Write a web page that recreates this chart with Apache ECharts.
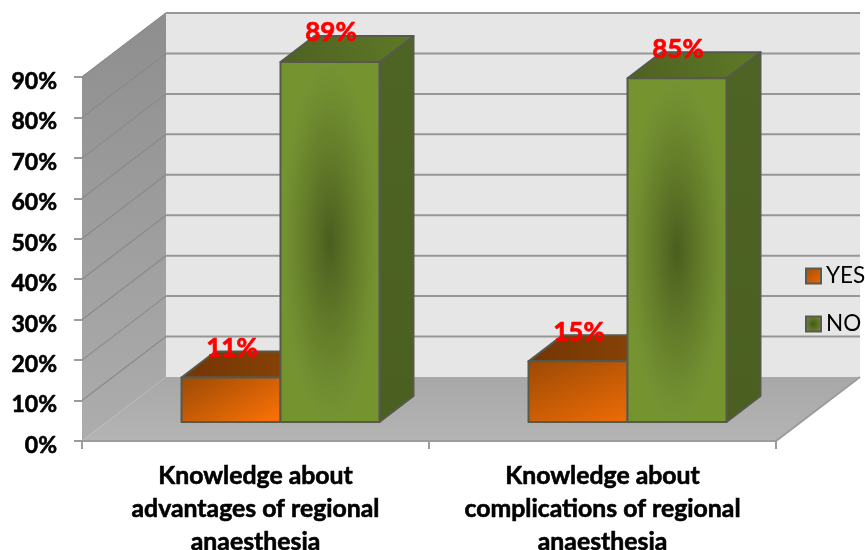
<!DOCTYPE html>
<html>
<head>
<meta charset="utf-8">
<title>Knowledge about regional anaesthesia</title>
<script src="https://cdn.jsdelivr.net/npm/echarts@6/dist/echarts.min.js"></script>
<style>
  html, body { margin: 0; padding: 0; background: #fff; }
  #chart { width: 865px; height: 550px; }
</style>
</head>
<body>
<div id="chart"></div>
<script>
// Survey responses, in percent
const categories = [
  'Knowledge about\nadvantages of regional\nanaesthesia',
  'Knowledge about\ncomplications of regional\nanaesthesia'
];
const yesValues = [11, 15];
const noValues = [89, 85];
const axisTicks = [0, 10, 20, 30, 40, 50, 60, 70, 80, 90];

// Projection of the box: offset from the front plane to the back wall,
// the plane the bars stand on, and the depth of each bar.
const wallDX = 84, wallDY = -64;
const barPlaneDX = 25, barPlaneDY = -19;
const barDX = 34, barDY = -26;
const barWidthRatio = 0.2853;
const FONT = 'Lato, "Open Sans", sans-serif';

function linear(x, y, x2, y2, from, to) {
  return { type: 'linear', x, y, x2, y2, colorStops: [{ offset: 0, color: from }, { offset: 1, color: to }] };
}
function mix(a, b, t) {
  const c = a.map((v, i) => Math.round(v + (b[i] - v) * t));
  return 'rgb(' + c.join(',') + ')';
}

// Floor, side wall and back wall
function renderRoom(params, api) {
  const cs = params.coordSys;
  const x0 = cs.x, x1 = cs.x + cs.width;
  const yB = cs.y + cs.height, yT = cs.y;
  const edge = { stroke: '#9c9c9c', lineWidth: 2 };
  return {
    type: 'group',
    children: [
      { type: 'rect', shape: { x: x0 + wallDX, y: yT + wallDY, width: x1 - x0, height: cs.height },
        style: { fill: '#e6e6e6' } },
      { type: 'polygon', shape: { points: [[x0, yB], [x0, yT], [x0 + wallDX, yT + wallDY], [x0 + wallDX, yB + wallDY]] },
        style: { fill: linear(0, 0, 0, 1, '#8e8e8e', '#adadad') } },
      { type: 'polygon', shape: { points: [[x0, yB], [x1, yB], [x1 + wallDX, yB + wallDY], [x0 + wallDX, yB + wallDY]] },
        style: { fill: linear(0, 0, 0, 1, '#a8a8a8', '#b4b4b4') } },
      { type: 'polyline', shape: { points: [[x1 + wallDX, yB + wallDY], [x1, yB], [x0, yB]] },
        style: Object.assign({ fill: 'none' }, edge) },
      { type: 'line', shape: { x1: x0, y1: yT, x2: x0 + wallDX, y2: yT + wallDY },
        style: { stroke: '#9c9c9c', lineWidth: 1 } }
    ]
  };
}

// One gridline per tick, running along the side wall and across the back wall
function renderGridline(params, api) {
  const p = api.coord([0, api.value(1)]);
  const cs = params.coordSys;
  const x0 = cs.x, x1 = cs.x + cs.width;
  const children = [];
  if (api.value(1) > 0) {
    children.push({ type: 'line', shape: { x1: x0, y1: p[1], x2: x0 + wallDX, y2: p[1] + wallDY },
      style: { stroke: '#8a8a8a', lineWidth: 1.2 } });
    children.push({ type: 'line', shape: { x1: x0 + wallDX, y1: p[1] + wallDY, x2: x1 + wallDX, y2: p[1] + wallDY },
      style: { stroke: '#969696', lineWidth: 2 } });
  }
  return { type: 'group', children };
}

// Elliptical shading on the front of the green bars, light rim to dark core
function greenGlow(x, y, w, h) {
  const rim = [117, 147, 50], core = [74, 92, 30];
  const steps = 30, out = [];
  for (let i = steps; i > 0; i--) {
    const t = i / steps;
    out.push({
      type: 'ellipse',
      shape: { cx: x + w / 2, cy: y + h / 2, rx: w * 0.5 * t, ry: h * 0.5 * t },
      style: { fill: mix(rim, core, Math.pow(1 - t, 1.2)) },
      silent: true
    });
  }
  return out;
}

// A 3D bar: top and side faces, front face and value label.
// side is -1 for the left bar of a pair and 0 for the right one.
function makeBarRenderer(side, palette) {
  return function (params, api) {
    const top = api.coord([api.value(0), api.value(1)]);
    const base = api.coord([api.value(0), 0]);
    const w = api.size([1, 0])[0] * barWidthRatio;
    const x = top[0] + barPlaneDX + side * w;
    const y = top[1] + barPlaneDY;
    const yB = base[1] + barPlaneDY;
    const h = yB - y;
    const border = { stroke: '#565a4c', lineWidth: 2, lineJoin: 'round' };
    const children = [
      { type: 'polygon', shape: { points: [[x + w, y], [x + w + barDX, y + barDY], [x + w + barDX, yB + barDY], [x + w, yB]] },
        style: Object.assign({ fill: palette.side }, border) },
      { type: 'polygon', shape: { points: [[x, y], [x + barDX, y + barDY], [x + w + barDX, y + barDY], [x + w, y]] },
        style: Object.assign({ fill: palette.top }, border) },
      { type: 'rect', shape: { x, y, width: w, height: h }, style: { fill: palette.front } }
    ];
    if (palette.glow) children.push.apply(children, greenGlow(x, y, w, h));
    children.push({ type: 'rect', shape: { x, y, width: w, height: h }, style: Object.assign({ fill: 'none' }, border) });
    children.push({
      type: 'text', z2: 50,
      style: {
        text: api.value(1) + '%', x: x + w / 2 + 1, y: y - 29, align: 'center', verticalAlign: 'middle',
        fill: '#ff0000', stroke: '#ff0000', lineWidth: 0.7, font: 'bold 26px ' + FONT
      }
    });
    return { type: 'group', children };
  };
}

const yesPalette = {
  front: linear(0, 0, 0.4, 1.6, '#9c4a06', '#f87005'),
  top: linear(0, 0, 1, 0, '#743505', '#8b4506'),
  side: '#7a3a05'
};
const noPalette = {
  front: '#75932f',
  top: linear(0, 1, 1, 0, '#4f6022', '#5e7a26'),
  side: linear(0, 0, 0, 1, '#4e6424', '#4a5f20'),
  glow: true
};

const chart = echarts.init(document.getElementById('chart'), null, { renderer: 'canvas' });
chart.setOption({
  animation: false,
  backgroundColor: '#ffffff',
  grid: { left: 82, top: 77, width: 694, height: 364, containLabel: false, outerBoundsMode: 'none' },
  legend: {
    orient: 'vertical', left: 805, top: 263, padding: 0, itemWidth: 15, itemHeight: 15, itemGap: 22,
    selectedMode: false,
    textStyle: { fontFamily: FONT, fontSize: 22.5, color: '#000', lineHeight: 26 },
    data: [
      { name: 'YES', icon: 'rect', itemStyle: { color: linear(0, 0, 1, 1, '#a04c06', '#f06a05'), borderColor: '#5a5a50', borderWidth: 2 } },
      { name: 'NO', icon: 'rect', itemStyle: { color: { type: 'radial', x: 0.5, y: 0.5, r: 0.6, colorStops: [{ offset: 0, color: '#46581a' }, { offset: 1, color: '#729030' }] }, borderColor: '#5a5a50', borderWidth: 2 } }
    ]
  },
  xAxis: {
    type: 'category',
    data: categories,
    boundaryGap: true,
    axisLine: { show: false },
    axisTick: { show: true, length: 8, alignWithLabel: false, lineStyle: { color: '#9c9c9c', width: 2 } },
    axisLabel: { interval: 0, margin: 19, fontFamily: FONT, fontWeight: 'bold', fontSize: 24.8, lineHeight: 33, color: '#000', textBorderColor: '#000', textBorderWidth: 0.6 },
    splitLine: { show: false }
  },
  yAxis: {
    type: 'value', min: axisTicks[0], max: axisTicks[axisTicks.length - 1], interval: 10,
    axisLine: { show: true, lineStyle: { color: '#a4a4a4', width: 1 } },
    axisTick: { show: true, length: 8, lineStyle: { color: '#9c9c9c', width: 2 } },
    axisLabel: { formatter: '{value}%', margin: 25, fontFamily: FONT, fontWeight: 'bold', fontSize: 23, color: '#000', verticalAlign: 'top', lineHeight: 9, textBorderColor: '#000', textBorderWidth: 0.6 },
    splitLine: { show: false }
  },
  series: [
    { type: 'custom', name: 'room', silent: true, z: 1, renderItem: renderRoom, data: [[0, 0]], encode: { x: 0, y: 1 } },
    { type: 'custom', name: 'grid', silent: true, z: 2, renderItem: renderGridline,
      data: axisTicks.map(v => [0, v]), encode: { x: 0, y: 1 } },
    { type: 'custom', name: 'YES', silent: true, z: 3, renderItem: makeBarRenderer(-1, yesPalette),
      itemStyle: { color: '#d85f05' }, data: yesValues.map((v, i) => [i, v]), encode: { x: 0, y: 1 } },
    { type: 'custom', name: 'NO', silent: true, z: 4, renderItem: makeBarRenderer(0, noPalette),
      itemStyle: { color: '#729030' }, data: noValues.map((v, i) => [i, v]), encode: { x: 0, y: 1 } }
  ]
});
</script>
</body>
</html>
